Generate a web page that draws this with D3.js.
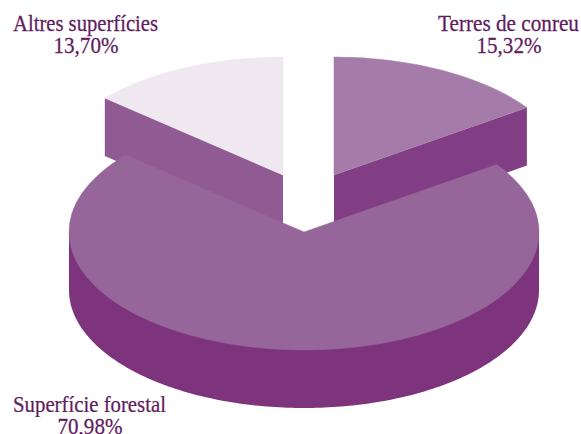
<!DOCTYPE html>
<head>
  <meta charset="utf-8" />
  <script src="https://d3js.org/d3.v7.min.js"></script>
  <style>
    html, body { margin: 0; padding: 0; background: #fff; }
    text { font-family: "Liberation Serif", serif; fill: #5f1c60; stroke: #5f1c60; stroke-width: 0.25px; }
  </style>
</head>

<body>
  <div id="chart"></div>

  <script>
    // Data
    const categories = ["Terres de conreu", "Superfície forestal", "Altres superfícies"];
    const shares = [15.32, 70.98, 13.70];
    const shareLabels = ["15,32%", "70,98%", "13,70%"];

    const topColors = ["#a57ca9", "#96669b", "#efe8f0"];
    const sideColors = ["#823e84", "#7e337d", "#905b92"];

    const width = 581, height = 434;
    const rx = 235, ry = 118, depth = 58;
    const center = { x: 304, y: 232 };

    // how far each slice is pulled out of the pie
    const offsets = [{ dx: 30, dy: -57 }, { dx: 0, dy: 0 }, { dx: -21, dy: -57 }];

    // label placement: name width in px, centre x of each line, baselines
    const labelPos = [
      { x: 509, nameX: 508.5, nameW: 141, y: 31 },
      { x: 90, nameX: 89.5, nameW: 153, y: 412 },
      { x: 86, nameX: 85.5, nameW: 145, y: 31 }
    ];

    const svg = d3.select("#chart").append("svg")
      .attr("width", width)
      .attr("height", height)
      .style("display", "block");

    const slices = d3.pie().sort(null)(shares);
    const arc = d3.arc().innerRadius(0).outerRadius(rx);

    // point on the top ellipse for a pie angle (0 = up, clockwise)
    const px = a => Math.sin(a) * rx;
    const py = a => -Math.cos(a) * ry;

    // wall under the radial edge that faces the viewer
    function drawWall(i, angle) {
      const o = offsets[i];
      svg.append("polygon")
        .attr("points", [
          [center.x + o.dx, center.y + o.dy],
          [center.x + o.dx + px(angle), center.y + o.dy + py(angle)],
          [center.x + o.dx + px(angle), center.y + o.dy + py(angle) + depth],
          [center.x + o.dx, center.y + o.dy + depth]
        ].join(" "))
        .attr("fill", sideColors[i]);
    }

    function drawTop(i) {
      const o = offsets[i];
      svg.append("path")
        .attr("d", arc(slices[i]))
        .attr("fill", topColors[i])
        .attr("stroke", topColors[i])
        .attr("stroke-width", 0.5)
        .attr("vector-effect", "non-scaling-stroke")
        .attr("transform", "translate(" + (center.x + o.dx) + "," + (center.y + o.dy) + ") scale(1," + (ry / rx) + ")");
    }

    // the two small slices go behind the big one
    drawWall(0, slices[0].endAngle);
    drawTop(0);
    drawWall(2, slices[2].startAngle);
    drawTop(2);

    // front rim of the big slice, runs under its top so no seam shows
    const rimAngles = d3.range(0, 181).map(d => Math.PI / 2 + d * Math.PI / 180);
    const rim = d3.area()
      .x(a => center.x + px(a))
      .y0(center.y)
      .y1(a => center.y + py(a) + depth);
    svg.append("path")
      .attr("d", rim(rimAngles))
      .attr("fill", sideColors[1]);

    drawTop(1);

    // condensed text: squeeze each line horizontally to the measured width
    function drawLabel(str, cx, y, w) {
      const t = svg.append("text")
        .attr("text-anchor", "middle")
        .attr("font-size", 23)
        .text(str);
      const k = w / t.node().getComputedTextLength();
      t.attr("transform", "translate(" + cx + "," + y + ") scale(" + k + ",1)");
    }

    // Labels
    categories.forEach(function (name, i) {
      const p = labelPos[i];
      drawLabel(name, p.nameX, p.y, p.nameW);
      drawLabel(shareLabels[i], p.x, p.y + 21.5, 65);
    });
  </script>
</body>
